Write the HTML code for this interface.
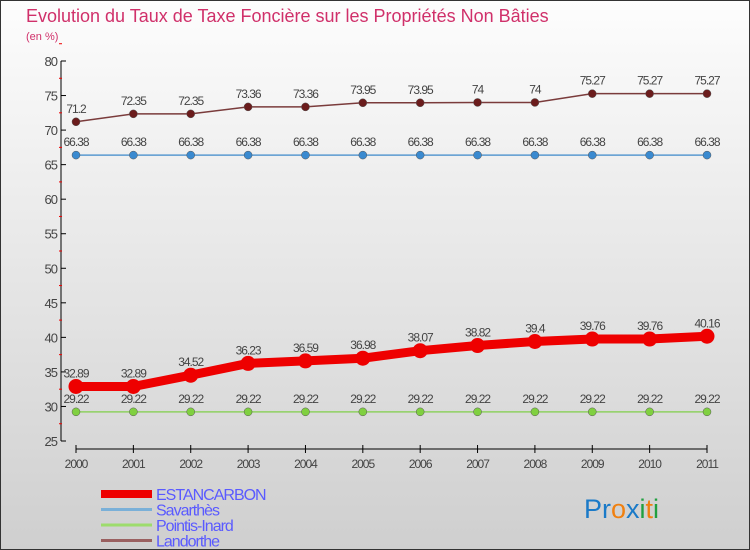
<!DOCTYPE html>
<html><head><meta charset="utf-8"><style>
body{margin:0}
#c{width:748px;height:548px;border:1px solid #333;background:linear-gradient(#fdfdfd,#cfcfcf);position:relative;font-family:"Liberation Sans",sans-serif;overflow:hidden}
</style></head><body>
<div id="c">
<svg id="s" width="748" height="548" xmlns="http://www.w3.org/2000/svg">
<text x="25" y="21" font-size="18" fill="#d0306a">Evolution du Taux de Taxe Foncière sur les Propriétés Non Bâties</text>
<text x="25" y="39" font-size="11" fill="#d0306a">(en %)</text>
</svg>
</div>
<script>
const years=[2000,2001,2002,2003,2004,2005,2006,2007,2008,2009,2010,2011];
const estancarbon=[32.89,32.89,34.52,36.23,36.59,36.98,38.07,38.82,39.4,39.76,39.76,40.16];
const savarthes=[66.38,66.38,66.38,66.38,66.38,66.38,66.38,66.38,66.38,66.38,66.38,66.38];
const pointis=[29.22,29.22,29.22,29.22,29.22,29.22,29.22,29.22,29.22,29.22,29.22,29.22];
const landorthe=[71.2,72.35,72.35,73.36,73.36,73.95,73.95,74,74,75.27,75.27,75.27];
const yTicks=[25,30,35,40,45,50,55,60,65,70,75,80];
const s=document.getElementById('s');const NS='http://www.w3.org/2000/svg';
function el(t,a,p){const e=document.createElementNS(NS,t);for(const k in a)e.setAttribute(k,a[k]);(p||s).appendChild(e);return e;}
const X=i=>75+i*(706-75)/(years.length-1);
const Y=v=>440-(v-25)*(380/55);
let ya=el('line',{x1:60,y1:Y(80),x2:60,y2:Y(25),stroke:'#000'});

yTicks.forEach(v=>{
 el('line',{x1:60,x2:65,y1:Y(v),y2:Y(v),stroke:'#000'});
 el('line',{x1:58,x2:61,y1:Y(v+2.5),y2:Y(v+2.5),stroke:'#e00'});
 const t=el('text',{x:56,y:Y(v)+5,'font-size':13,fill:'#444','text-anchor':'end','letter-spacing':'-1'});t.textContent=v;
 
});
let xa=el('line',{x1:75,x2:706,y1:448,y2:448,stroke:'#000'});

years.forEach((y,i)=>{
 el('line',{x1:X(i),x2:X(i),y1:444,y2:452,stroke:'#000'});
 const t=el('text',{x:X(i),y:467,'font-size':12,fill:'#444','text-anchor':'middle','letter-spacing':'-1'});t.textContent=y;
 
});
function series(data,name,color,lw,r,dot){
 const g=el('g',{});
 el('polyline',{points:data.map((v,i)=>X(i)+','+Y(v)).join(' '),fill:'none',stroke:color,'stroke-width':lw},g);
 data.forEach((v,i)=>{
  const c=el('circle',{cx:X(i),cy:Y(v),r:r,fill:dot,stroke:dot==='#e00'?'none':'#555','stroke-width':0.5},g);
  
  const t=el('text',{x:X(i),y:Y(v)-9,'font-size':12,fill:'#444','text-anchor':'middle','letter-spacing':'-1'},g);t.textContent=v;
  
 });
}
series(landorthe,'landorthe','#7a3b3b',1.5,4,'#6b1c1c');
series(savarthes,'savarthes','#5a9ad0',1.5,4,'#3a8ad0');
series(pointis,'pointis-inard','#8fd060',1.5,4,'#80d040');
series(estancarbon,'estancarbon','#e00',9,7.5,'#e00');
const leg=[['ESTANCARBON','#e00',8],['Savarthès','#7ab0d8',3],['Pointis-Inard','#9ddc6c',3],['Landorthe','#9a6060',3]];
leg.forEach((l,i)=>{
 const g=el('g',{});
 const y=493+i*15.5;
 el('line',{x1:100,x2:151,y1:y,y2:y,stroke:l[1],'stroke-width':l[2]},g);
 const t=el('text',{x:155,y:y+6,'font-size':16,fill:'#5a5aff','letter-spacing':'-1'},g);t.textContent=l[0];
});
const lg=el('text',{x:583,y:517,'font-size':27});

[['Pr','#1a7ac8'],['o','#f08010'],['x','#1a7ac8'],['i','#20a040'],['t','#f08010'],['i','#20a040']].forEach(p=>{const ts=el('tspan',{fill:p[1]},lg);ts.textContent=p[0];});
</script>
</body></html>
